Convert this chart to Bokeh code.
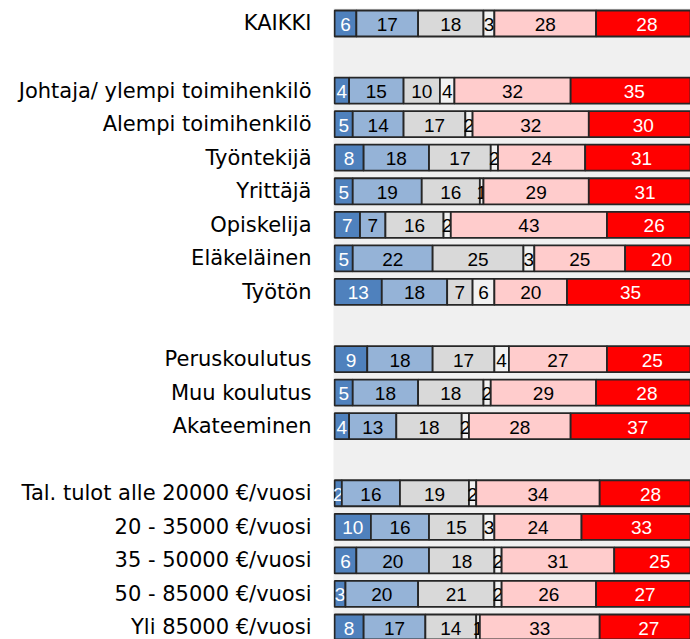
import numpy as np
from bokeh.plotting import figure
from bokeh.models import ColumnDataSource, Range1d, FixedTicker
from bokeh.core.properties import value
from bokeh.embed import file_html
from bokeh.resources import INLINE

categories = ["KAIKKI",
              "Johtaja/ ylempi toimihenkilö", "Alempi toimihenkilö", "Työntekijä",
              "Yrittäjä", "Opiskelija", "Eläkeläinen", "Työtön",
              "Peruskoulutus", "Muu koulutus", "Akateeminen",
              "Tal. tulot alle 20000 €/vuosi", "20 - 35000 €/vuosi", "35 - 50000 €/vuosi",
              "50 - 85000 €/vuosi", "Yli 85000 €/vuosi"]
# row slots (blank slots separate the groups)
slots = [0, 2, 3, 4, 5, 6, 7, 8, 10, 11, 12, 14, 15, 16, 17, 18]

s1 = [6, 4, 5, 8, 5, 7, 5, 13, 9, 5, 4, 2, 10, 6, 3, 8]
s2 = [17, 15, 14, 18, 19, 7, 22, 18, 18, 18, 13, 16, 16, 20, 20, 17]
s3 = [18, 10, 17, 17, 16, 16, 25, 7, 17, 18, 18, 19, 15, 18, 21, 14]
s4 = [3, 4, 2, 2, 1, 2, 3, 6, 4, 2, 2, 2, 3, 2, 2, 1]
s5 = [28, 32, 32, 24, 29, 43, 25, 20, 27, 29, 28, 34, 24, 31, 26, 33]
s6 = [28, 35, 30, 31, 31, 26, 20, 35, 25, 28, 37, 28, 33, 25, 27, 27]

series = [s1, s2, s3, s4, s5, s6]
colors = ["#4f81bd", "#95b3d7", "#d9d9d9", "#f2f2f2", "#ffcccc", "#ff0000"]
text_colors = ["white", "black", "black", "black", "black", "white"]

p = figure(width=690, height=639, output_backend="svg", toolbar_location=None,
           x_range=Range1d(-0.3, 98.0), y_range=Range1d(18.358, -0.447),
           min_border_left=333, min_border_right=0, min_border_top=8, min_border_bottom=0)
p.background_fill_color = "#f0f0f0"
p.border_fill_color = "white"
p.outline_line_color = None
p.xgrid.visible = False
p.ygrid.visible = False
p.xaxis.visible = False

y = np.array(slots, dtype=float)
left = np.zeros(len(categories))
for vals, col, tcol in zip(series, colors, text_colors):
    v = np.array(vals, dtype=float)
    right = left + v
    src = ColumnDataSource(dict(y=y, left=left, right=right, mid=(left + right) / 2,
                                lab=[str(int(a)) for a in v]))
    p.hbar(y="y", left="left", right="right", height=0.775, source=src,
           fill_color=col, line_color="#262626", line_width=1.8)
    p.text(x="mid", y="y", text="lab", source=src, text_align="center",
           text_baseline="middle", text_color=tcol, text_font=value("Liberation Sans"),
           text_font_size="19px", y_offset=1)
    left = right

ax = p.yaxis[0]
ax.ticker = FixedTicker(ticks=slots)
ax.major_label_overrides = {s: c for s, c in zip(slots, categories)}
ax.axis_line_color = None
ax.major_tick_line_color = None
ax.minor_tick_line_color = None
ax.major_tick_out = 0
ax.major_tick_in = 0
ax.major_label_standoff = 22
ax.major_label_text_font = "DejaVu Sans"
ax.major_label_text_font_size = "21px"
ax.major_label_text_color = "black"

open("out.html", "w").write(file_html(p, INLINE))
